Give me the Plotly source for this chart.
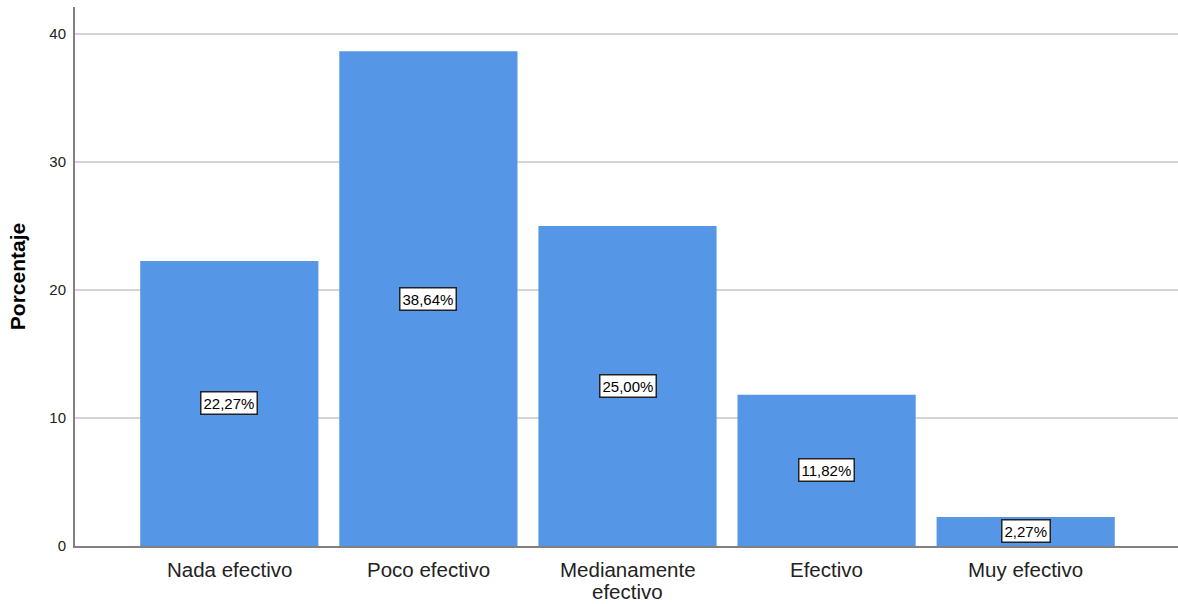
import plotly.graph_objects as go

categories = ["Nada efectivo", "Poco efectivo", "Medianamente<br>efectivo", "Efectivo", "Muy efectivo"]
values = [22.27, 38.64, 25.00, 11.82, 2.27]
labels = ["22,27%", "38,64%", "25,00%", "11,82%", "2,27%"]
y_ticks = [0, 10, 20, 30, 40]

font_family = "Arial, Liberation Sans, sans-serif"

fig = go.Figure()
fig.add_trace(go.Bar(
    x=list(range(len(categories))),
    y=values,
    marker=dict(color="rgb(85,150,230)", line=dict(width=0)),
    hoverinfo="skip",
))

for i, (v, lab) in enumerate(zip(values, labels)):
    fig.add_annotation(
        x=i, y=v / 2, text=lab, showarrow=False,
        font=dict(family=font_family, size=15, color="black"),
        bgcolor="white", bordercolor="#222", borderwidth=1.5, borderpad=2,
    )

# category labels (tight line spacing like the original)
for i, cat in enumerate(categories):
    for k, line in enumerate(cat.split("<br>")):
        fig.add_annotation(
            x=i, xref="x", y=0, yref="paper", text=line, showarrow=False,
            yanchor="middle", yshift=-23 - 22 * k,
            font=dict(family=font_family, size=20.5, color="#222"),
        )

fig.update_layout(
    width=1178, height=604,
    margin=dict(l=75, r=0, t=7, b=58),
    plot_bgcolor="white", paper_bgcolor="white",
    bargap=0.105,
    showlegend=False,
    font=dict(family=font_family, color="black"),
)
fig.update_xaxes(
    tickmode="array", tickvals=list(range(len(categories))), ticktext=categories,
    showticklabels=False,
    range=[-0.775, 4.765],
    showline=True, linecolor="#808080", linewidth=2,
    showgrid=False, ticks="", zeroline=False,
    automargin=False,
)
fig.update_yaxes(
    range=[0, 42.1], tickvals=y_ticks,
    showline=True, linecolor="#808080", linewidth=2,
    showgrid=True, gridcolor="#d4d4d4", gridwidth=2,
    ticks="", zeroline=False,
    ticklabelstandoff=4, automargin=False,
    tickfont=dict(size=15, family=font_family, color="#222"),
    title=dict(text="<b>Porcentaje</b>", font=dict(size=21, family=font_family, color="black"), standoff=18),
)

fig.write_html("out.html")
